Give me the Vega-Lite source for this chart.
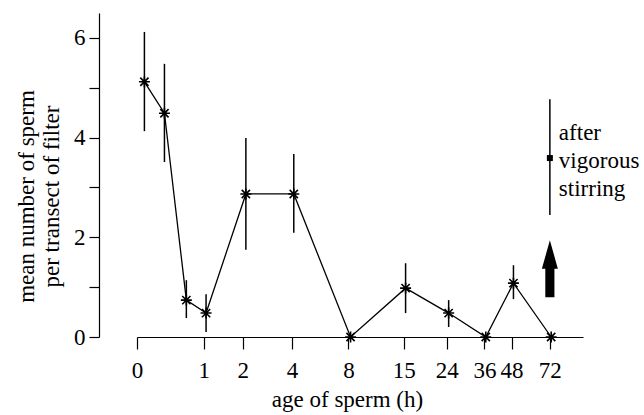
{
  "$schema": "https://vega.github.io/schema/vega-lite/v6.json",
  "width": 446,
  "height": 324,
  "autosize": {"type": "none"},
  "padding": {"left": 137, "top": 13, "right": 61, "bottom": 78},
  "background": "white",
  "config": {
    "view": {"stroke": null},
    "font": "'Liberation Serif', 'Times New Roman', Times, serif",
    "text": {"font": "'Liberation Serif', 'Times New Roman', Times, serif", "fontSize": 23},
    "axis": {
      "grid": false,
      "domainColor": "black",
      "tickColor": "black",
      "labelColor": "black",
      "titleColor": "black",
      "labelFont": "'Liberation Serif', 'Times New Roman', Times, serif",
      "titleFont": "'Liberation Serif', 'Times New Roman', Times, serif",
      "labelFontSize": 23,
      "titleFontSize": 23,
      "titleFontWeight": "normal",
      "domainWidth": 1.2,
      "tickWidth": 1.2
    }
  },
  "datasets": {
    "means": [
      {"hours": 0.08, "mean": 5.12, "lo": 4.13, "hi": 6.12},
      {"hours": 0.33, "mean": 4.49, "lo": 3.51, "hi": 5.48},
      {"hours": 0.67, "mean": 0.74, "lo": 0.38, "hi": 1.14},
      {"hours": 1.05, "mean": 0.48, "lo": 0.1, "hi": 0.86},
      {"hours": 2.1, "mean": 2.87, "lo": 1.75, "hi": 3.99},
      {"hours": 4.1, "mean": 2.87, "lo": 2.09, "hi": 3.67},
      {"hours": 8.2, "mean": 0, "lo": null, "hi": null},
      {"hours": 15.3, "mean": 0.98, "lo": 0.48, "hi": 1.48},
      {"hours": 24.5, "mean": 0.48, "lo": 0.2, "hi": 0.74},
      {"hours": 36.5, "mean": 0, "lo": null, "hi": null},
      {"hours": 49, "mean": 1.08, "lo": 0.76, "hi": 1.44},
      {"hours": 73, "mean": 0, "lo": null, "hi": null}
    ],
    "stirring": [
      {"hours": 72, "mean": 3.59, "lo": 2.45, "hi": 4.77, "note": "after\nvigorous\nstirring"}
    ],
    "arrow": [
      {"hours": 72, "mean": 1.37}
    ]
  },
  "layer": [
    {
      "data": {"name": "means"},
      "mark": {"type": "line", "color": "black", "strokeWidth": 1.3},
      "encoding": {
        "x": {
          "field": "hours", "type": "quantitative",
          "scale": {"type": "symlog", "constant": 1, "domain": [0, 102], "nice": false, "zero": false},
          "axis": {
            "values": [0, 1, 2, 4, 8, 15, 24, 36, 48, 72],
            "tickSize": 12,
            "labelPadding": 10,
            "labelFlush": false,
            "labelOverlap": false,
            "title": "age of sperm (h)",
            "titlePadding": 6,
            "titleX": 210
          }
        },
        "y": {
          "field": "mean", "type": "quantitative",
          "scale": {"domain": [0, 6.5], "nice": false},
          "axis": {
            "values": [0, 1, 2, 3, 4, 5, 6],
            "labelExpr": "datum.value % 2 === 0 ? datum.label : ''",
            "offset": 38,
            "tickSize": 10,
            "labelPadding": 4,
            "title": ["mean number of sperm", "per transect of filter"],
            "titleLineHeight": 25,
            "titlePadding": 10,
            "titleY": 183
          }
        }
      }
    },
    {
      "data": {"name": "means"},
      "transform": [{"filter": "datum.lo != null"}],
      "mark": {"type": "rule", "color": "black", "strokeWidth": 1.5},
      "encoding": {
        "x": {"field": "hours", "type": "quantitative"},
        "y": {"field": "lo", "type": "quantitative"},
        "y2": {"field": "hi"}
      }
    },
    {
      "data": {"name": "means"},
      "mark": {
        "type": "point",
        "shape": "M-1,0L1,0M0,-1L0,1M-0.75,-0.75L0.75,0.75M-0.75,0.75L0.75,-0.75",
        "size": 121,
        "filled": false,
        "stroke": "black",
        "strokeWidth": 1.6,
        "opacity": 1
      },
      "encoding": {
        "x": {"field": "hours", "type": "quantitative"},
        "y": {"field": "mean", "type": "quantitative"}
      }
    },
    {
      "data": {"name": "stirring"},
      "mark": {"type": "rule", "color": "black", "strokeWidth": 1.5},
      "encoding": {
        "x": {"field": "hours", "type": "quantitative"},
        "y": {"field": "lo", "type": "quantitative"},
        "y2": {"field": "hi"}
      }
    },
    {
      "data": {"name": "stirring"},
      "mark": {"type": "point", "shape": "square", "size": 36, "filled": true, "color": "black", "opacity": 1},
      "encoding": {
        "x": {"field": "hours", "type": "quantitative"},
        "y": {"field": "mean", "type": "quantitative"}
      }
    },
    {
      "data": {"name": "stirring"},
      "mark": {"type": "text", "align": "left", "baseline": "middle", "dx": 9, "dy": -25, "fontSize": 23, "font": "'Liberation Serif', 'Times New Roman', Times, serif", "color": "black", "lineBreak": "\n", "lineHeight": 28},
      "encoding": {
        "x": {"field": "hours", "type": "quantitative"},
        "y": {"field": "mean", "type": "quantitative"},
        "text": {"field": "note"}
      }
    },
    {
      "data": {"name": "arrow"},
      "mark": {
        "type": "point",
        "shape": "M0,-1L0.28,0L0.16,0L0.16,1L-0.16,1L-0.16,0L-0.28,0Z",
        "size": 3249,
        "filled": true,
        "color": "black",
        "opacity": 1
      },
      "encoding": {
        "x": {"field": "hours", "type": "quantitative"},
        "y": {"field": "mean", "type": "quantitative"}
      }
    }
  ]
}
